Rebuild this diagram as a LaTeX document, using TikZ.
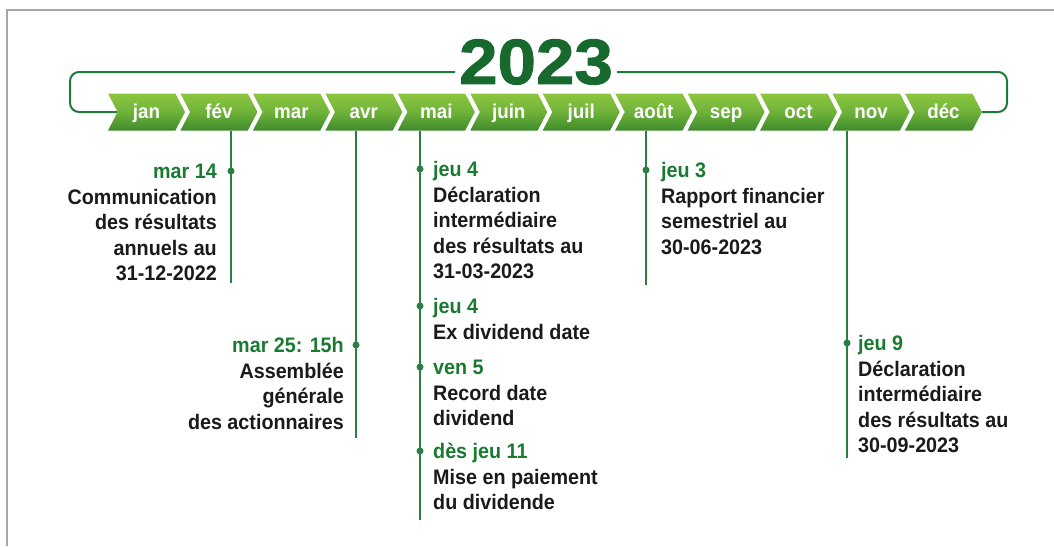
\documentclass[tikz,border=0pt]{standalone}
\usepackage{fontspec}
\setmainfont{Liberation Sans}
\newfontfamily\labfont[FakeStretch=0.94]{Liberation Sans}
\newfontfamily\yearfont[FakeStretch=1.08,BoldFeatures={FakeBold=1.5}]{Liberation Sans}
\usetikzlibrary{shapes.symbols,backgrounds}
\definecolor{framegray}{HTML}{A8A8A8}
\definecolor{brk}{HTML}{1E7A38}
\definecolor{yr}{HTML}{17692D}
\definecolor{evline}{HTML}{2A8042}
\definecolor{evtitle}{HTML}{1A7A32}
\definecolor{ctop}{HTML}{8DC63F}
\definecolor{cmid}{HTML}{6FB23A}
\definecolor{cbot}{HTML}{3F8A2C}
\definecolor{ink}{HTML}{1A1A1A}
\newcommand\evhead[1]{\rule{0pt}{20pt}\textcolor{evtitle}{#1}}
\tikzset{
  month/.style={signal, signal from=west, signal to=east, signal pointer angle=125,
    minimum width=77pt, minimum height=37pt, inner sep=0pt,
    top color=ctop, bottom color=cbot, middle color=cmid, draw=none,
    text=white, text height=15pt, text depth=2pt,
    font=\labfont\bfseries\fontsize{20}{24}\selectfont},
  brkline/.style={draw=brk, line width=2pt, rounded corners=9pt},
  evl/.style={draw=evline, line width=2pt},
  evdot/.style={circle, fill=evline, inner sep=0pt, minimum size=7pt},
  evtext/.style={inner sep=0pt, text=ink, font=\labfont\bfseries\fontsize{21}{25.5}\selectfont},
  evleft/.style={evtext, anchor=north east, align=right},
  evright/.style={evtext, anchor=north west, align=left},
}
\begin{document}
\begin{tikzpicture}[x=1pt,y=-1pt]
\useasboundingbox (0,0) rectangle (1054,546);
% frame
\draw[framegray, line width=2.5pt] (7,546) -- (7,10) -- (1054,10);
% year
\node[font=\yearfont\bfseries\fontsize{64}{64}\selectfont, text=yr, inner sep=0pt] (year) at (536,62) {2023};
\coordinate (bl) at (455,72);
\coordinate (br) at (617,72);
% months
\foreach \m [count=\i from 0] in {jan,fév,mar,avr,mai,juin,juil,août,sep,oct,nov,déc}
  \node[month] (m\i) at ({146.5+72.45*\i},112) {\m};
% bracket
\begin{pgfonlayer}{background}
\draw[brkline] (m0.west) -- (70,112) -- (70,72) -- (bl);
\draw[brkline] (br) -- (1007,72) -- (1007,112) -- (m11.east);
\end{pgfonlayer}
% event lines
\coordinate (f1) at (231,283);
\coordinate (f2) at (356,438);
\coordinate (f3) at (420,520);
\coordinate (f4) at (646,285);
\coordinate (f5) at (847,458);
\draw[evl] (m1.south -| f1) -- (f1);
\draw[evl] (m3.south -| f2) -- (f2);
\draw[evl] (m4.south -| f3) -- (f3);
\draw[evl] (m7.south -| f4) -- (f4);
\draw[evl] (m10.south -| f5) -- (f5);
% dots
\node[evdot] (d1) at (231,171) {};
\node[evdot] (d2) at (356,345) {};
\node[evdot] (d3) at (420,169) {};
\node[evdot] (d4) at (420,306) {};
\node[evdot] (d5) at (420,367) {};
\node[evdot] (d6) at (420,451) {};
\node[evdot] (d7) at (646,170) {};
\node[evdot] (d8) at (847,343) {};
% texts
\node[evleft] (t1) at (217,158.5) {\evhead{mar 14}\\Communication\\des résultats\\annuels au\\31-12-2022};
\node[evleft] (t2) at (344,332.5) {\evhead{mar 25: 15h}\\Assemblée\\générale\\des actionnaires};
\node[evright] (t3) at (433,156.5) {\evhead{jeu 4}\\Déclaration\\intermédiaire\\des résultats au\\31-03-2023};
\node[evright] (t4) at (433,293.5) {\evhead{jeu 4}\\Ex dividend date};
\node[evright] (t5) at (433,354.5) {\evhead{ven 5}\\Record date\\dividend};
\node[evright] (t6) at (433,438.5) {\evhead{dès jeu 11}\\Mise en paiement\\du dividende};
\node[evright] (t7) at (661,157.5) {\evhead{jeu 3}\\Rapport financier\\semestriel au\\30-06-2023};
\node[evright] (t8) at (858,330.5) {\evhead{jeu 9}\\Déclaration\\intermédiaire\\des résultats au\\30-09-2023};
\end{tikzpicture}
\end{document}
